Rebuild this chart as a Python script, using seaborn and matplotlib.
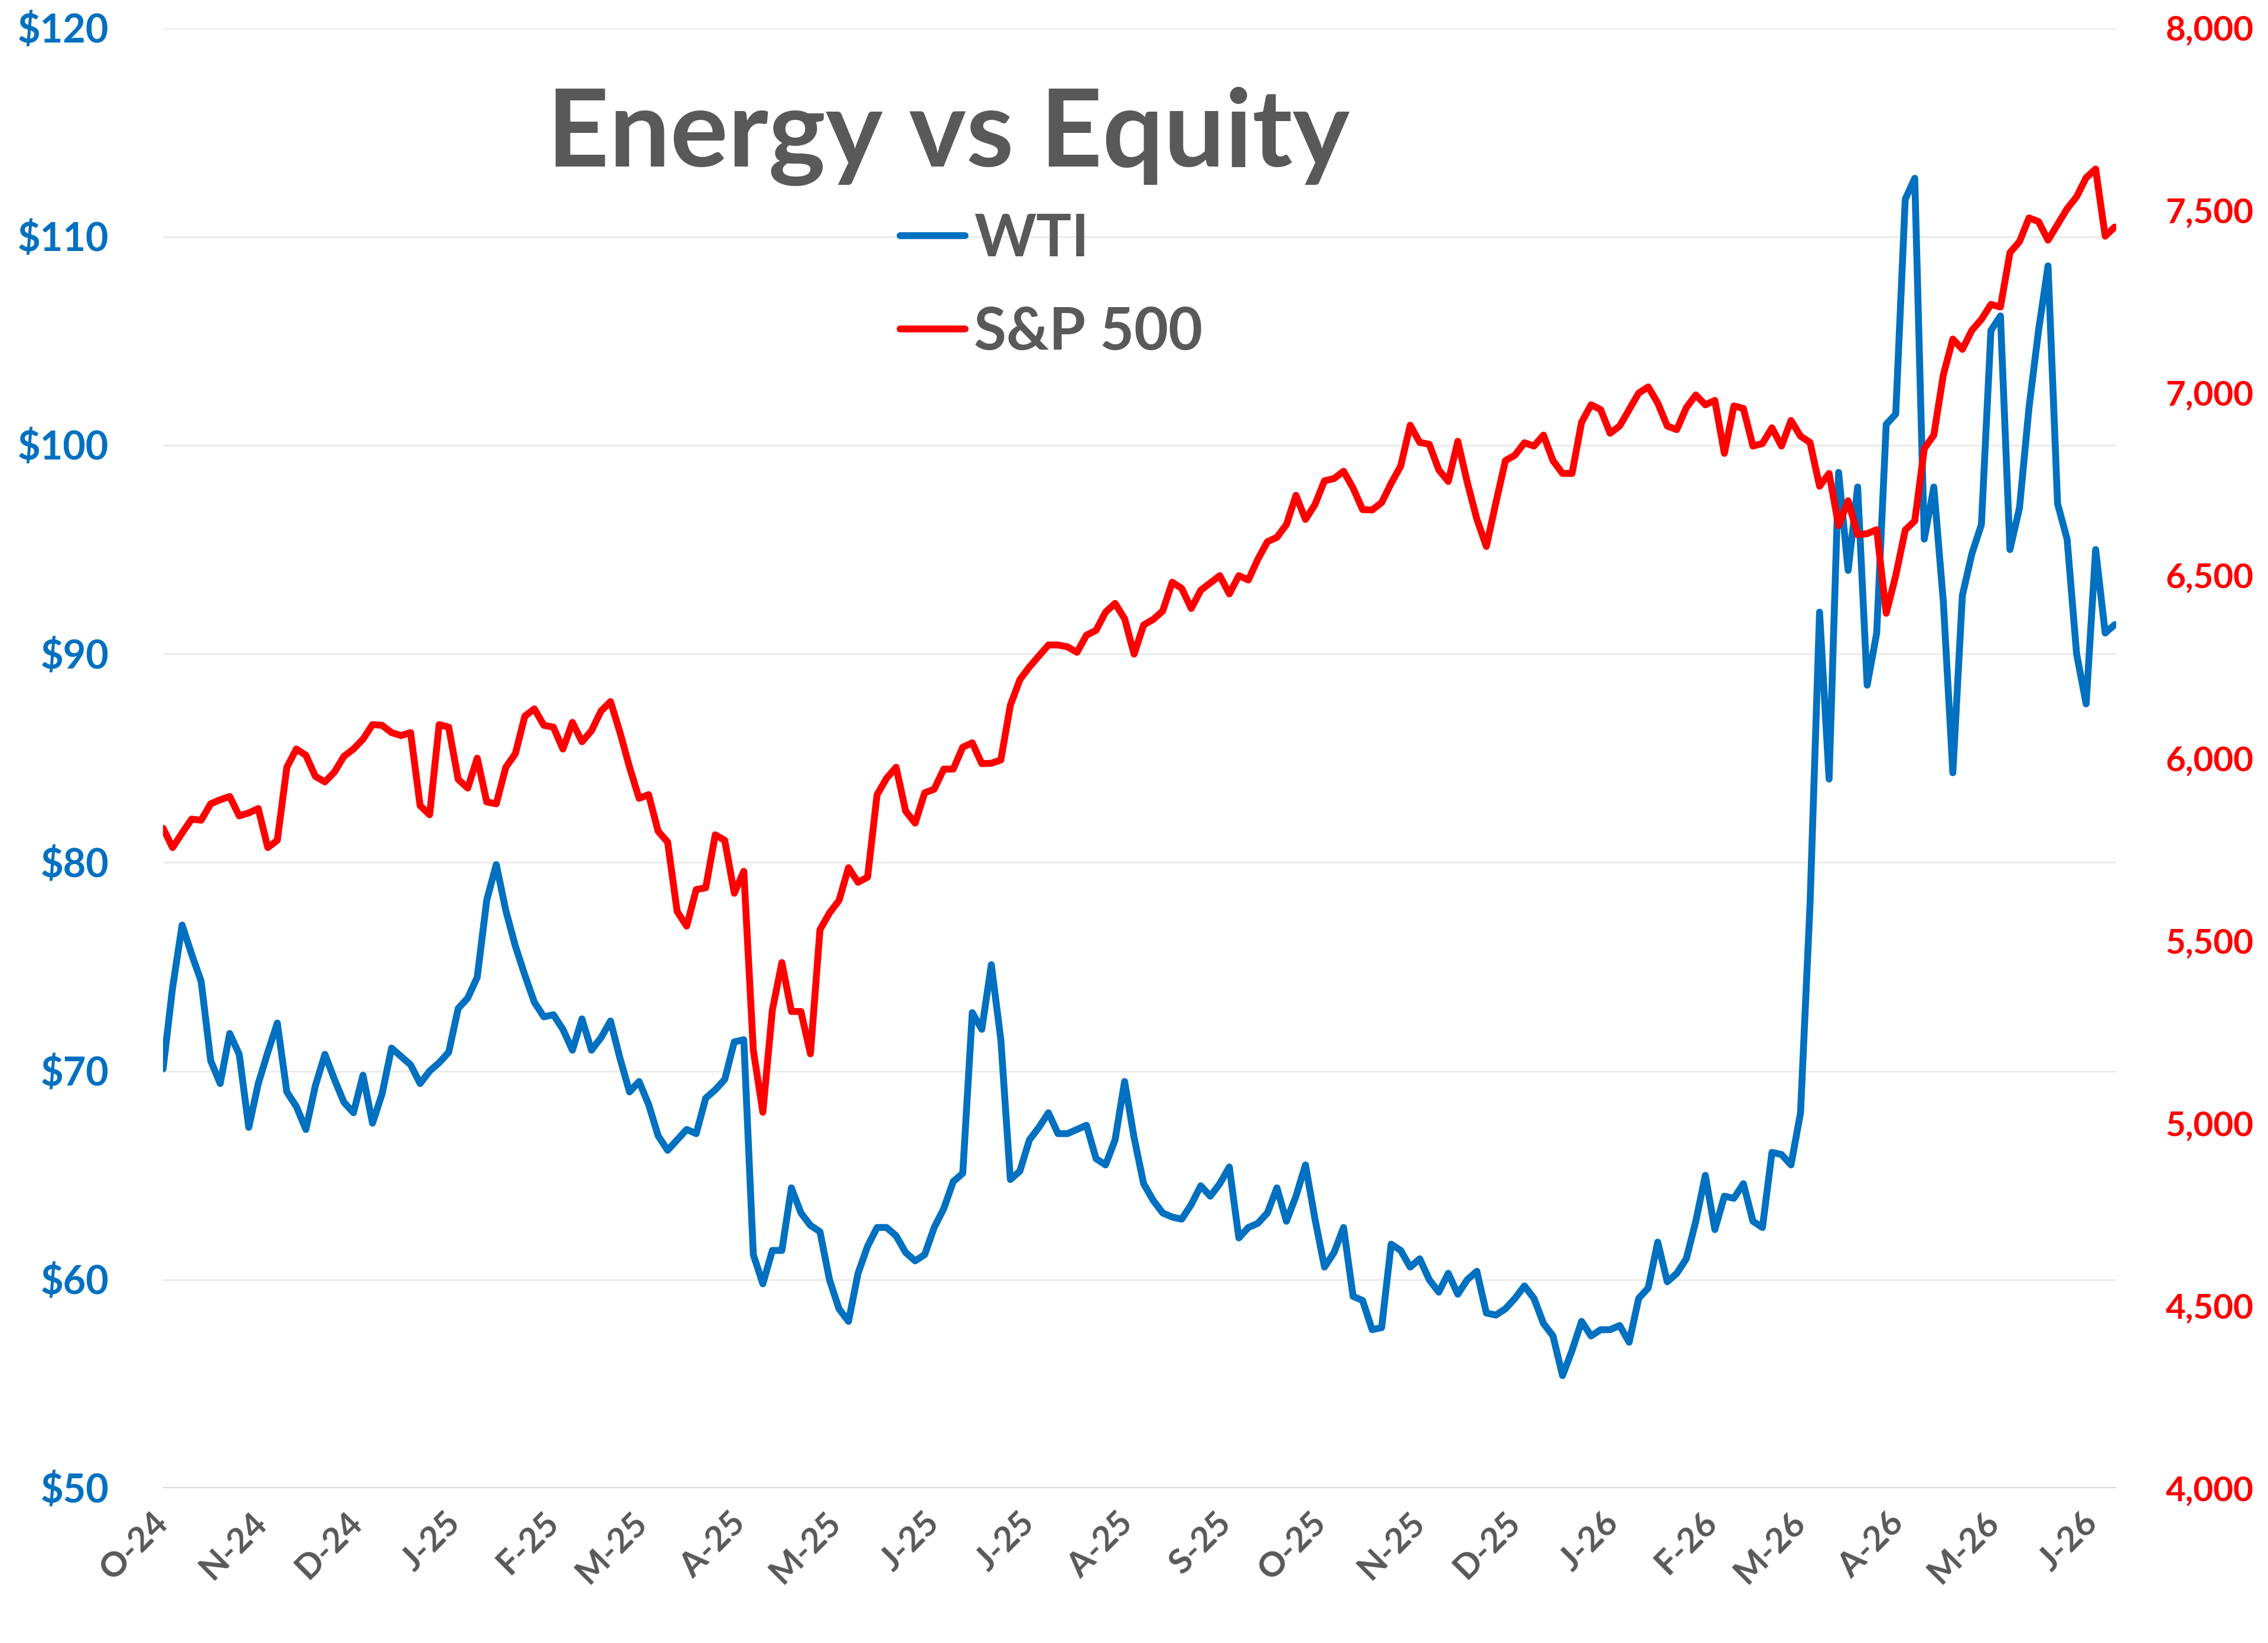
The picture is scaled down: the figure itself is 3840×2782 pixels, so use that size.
import pandas as pd
import seaborn as sns
import matplotlib.pyplot as plt
import matplotlib.ticker as mticker

# price samples every 3 calendar days, Oct 2024 - Jun 2026
dates = pd.date_range('2024-10-01', periods=206, freq='3D')

wti = [
    70.1, 74.0, 77.0, 75.6, 74.3, 70.5, 69.4, 71.8, 70.8, 67.3,
    69.4, 70.9, 72.3, 69.0, 68.3, 67.2, 69.3, 70.8, 69.6, 68.5,
    68.0, 69.8, 67.5, 68.9, 71.1, 70.7, 70.3, 69.4, 70.0, 70.4,
    70.9, 73.0, 73.5, 74.5, 78.2, 79.9, 77.7, 76.0, 74.6, 73.3,
    72.6, 72.7, 72.0, 71.0, 72.5, 71.0, 71.6, 72.4, 70.6, 69.0,
    69.5, 68.4, 66.9, 66.2, 66.7, 67.2, 67.0, 68.7, 69.1, 69.6,
    71.4, 71.5, 61.2, 59.8, 61.4, 61.4, 64.4, 63.2, 62.6, 62.3,
    60.0, 58.6, 58.0, 60.3, 61.6, 62.5, 62.5, 62.1, 61.3, 60.9,
    61.2, 62.5, 63.4, 64.7, 65.1, 72.8, 72.0, 75.1, 71.5, 64.8,
    65.2, 66.7, 67.3, 68.0, 67.0, 67.0, 67.2, 67.4, 65.8, 65.5,
    66.7, 69.5, 66.8, 64.6, 63.8, 63.2, 63.0, 62.9, 63.6, 64.5,
    64.0, 64.6, 65.4, 62.0, 62.5, 62.7, 63.2, 64.4, 62.8, 64.0,
    65.5, 62.9, 60.6, 61.3, 62.5, 59.2, 59.0, 57.6, 57.7, 61.7,
    61.4, 60.6, 61.0, 60.0, 59.4, 60.3, 59.3, 60.0, 60.4, 58.4,
    58.3, 58.6, 59.1, 59.7, 59.1, 57.9, 57.3, 55.4, 56.6, 58.0,
    57.3, 57.6, 57.6, 57.8, 57.0, 59.1, 59.6, 61.8, 59.9, 60.3,
    61.0, 62.8, 65.0, 62.4, 64.0, 63.9, 64.6, 62.8, 62.5, 66.1,
    66.0, 65.5, 68.0, 78.0, 92.0, 84.0, 98.7, 94.0, 98.0, 88.5,
    91.0, 101.0, 101.5, 111.8, 112.8, 95.5, 98.0, 92.5, 84.3, 92.8,
    94.8, 96.2, 105.5, 106.2, 95.0, 97.0, 101.8, 105.5, 108.6, 97.2,
    95.5, 90.0, 87.6, 95.0, 91.0, 91.4,
]

spx = [
    5808, 5755, 5795, 5833, 5830, 5875, 5886, 5895, 5842, 5850,
    5862, 5755, 5775, 5975, 6025, 6008, 5950, 5935, 5962, 6005,
    6025, 6052, 6092, 6090, 6070, 6062, 6070, 5870, 5845, 6092,
    6085, 5942, 5918, 6000, 5880, 5875, 5975, 6012, 6115, 6135,
    6090, 6085, 6025, 6098, 6045, 6075, 6129, 6155, 6070, 5975,
    5890, 5900, 5800, 5770, 5580, 5540, 5640, 5645, 5790, 5775,
    5630, 5690, 5200, 5030, 5310, 5440, 5306, 5306, 5190, 5530,
    5576, 5610, 5700, 5660, 5674, 5900, 5945, 5975, 5855, 5822,
    5905, 5915, 5970, 5970, 6030, 6042, 5985, 5986, 5995, 6145,
    6215, 6250, 6280, 6310, 6310, 6305, 6290, 6337, 6350, 6400,
    6424, 6382, 6285, 6365, 6380, 6403, 6482, 6465, 6410, 6460,
    6480, 6500, 6450, 6500, 6488, 6545, 6593, 6605, 6640, 6720,
    6654, 6695, 6760, 6766, 6786, 6740, 6681, 6680, 6700, 6753,
    6800, 6912, 6865, 6860, 6790, 6758, 6868, 6755, 6655, 6580,
    6700, 6815, 6830, 6864, 6855, 6885, 6815, 6780, 6780, 6920,
    6968, 6955, 6890, 6910, 6955, 7000, 7017, 6973, 6910, 6900,
    6960, 6995, 6968, 6980, 6835, 6965, 6958, 6855, 6862, 6905,
    6855, 6925, 6882, 6865, 6745, 6780, 6637, 6705, 6612, 6615,
    6626, 6397, 6500, 6625, 6650, 6848, 6885, 7050, 7148, 7120,
    7172, 7202, 7243, 7236, 7385, 7415, 7480, 7470, 7419, 7462,
    7505, 7538, 7590, 7614, 7430, 7455,
]

month_ticks = pd.date_range('2024-10-01', '2026-06-01', freq='MS')
month_labels = ['O-24', 'N-24', 'D-24', 'J-25', 'F-25', 'M-25', 'A-25',
                'M-25', 'J-25', 'J-25', 'A-25', 'S-25', 'O-25', 'N-25',
                'D-25', 'J-26', 'F-26', 'M-26', 'A-26', 'M-26', 'J-26']

BLUE = '#0070C0'
RED = '#FF0000'
GRAY = '#595959'

sns.set_style('white')
plt.rcParams['font.family'] = ['Lato', 'DejaVu Sans']
plt.rcParams['font.weight'] = 'bold'

df = pd.DataFrame({'date': dates, 'WTI': wti, 'S&P 500': spx})

fig = plt.figure(figsize=(12.8, 2782 / 300), dpi=300)
ax = fig.add_axes([0.0719, 0.0942, 0.8612, 0.8887])
ax2 = ax.twinx()

sns.lineplot(data=df, x='date', y='WTI', ax=ax, color=BLUE, linewidth=2.8, label='WTI', legend=False)
sns.lineplot(data=df, x='date', y='S&P 500', ax=ax2, color=RED, linewidth=2.8, label='S&P 500', legend=False)

ax.set_xlim(pd.Timestamp('2024-10-01'), pd.Timestamp('2026-06-08 12:00'))
ax.set_ylim(50, 120)
ax2.set_ylim(4000, 8000)
ax.set_yticks(range(50, 121, 10))
ax2.set_yticks(range(4000, 8001, 500))
ax.yaxis.set_major_formatter(mticker.FuncFormatter(lambda v, p: f'${v:.0f}'))
ax2.yaxis.set_major_formatter(mticker.FuncFormatter(lambda v, p: f'{v:,.0f}'))

ax.set_xticks(month_ticks)
ax.set_xticklabels(month_labels)
for lab in ax.get_xticklabels():
    lab.set_rotation(45)
    lab.set_ha('right')
    lab.set_va('center')
    lab.set_rotation_mode('anchor')

ax.tick_params(axis='x', length=0, pad=12, labelsize=14, labelcolor=GRAY)
ax.tick_params(axis='y', length=0, pad=22, labelsize=16, labelcolor=BLUE)
ax2.tick_params(axis='y', length=0, pad=20, labelsize=14, labelcolor=RED)

ax.set_xlabel('')
ax.set_ylabel('')
ax2.set_ylabel('')

ax.grid(axis='y', color='#EBEBEB', linewidth=0.7)
ax.grid(axis='x', visible=False)
ax2.grid(False)
for a in (ax, ax2):
    for s in a.spines.values():
        s.set_visible(False)
ax.axhline(50, color='#D9D9D9', linewidth=1.0, zorder=1)

fig.text(0.418, 0.8986, 'Energy vs Equity', ha='center', va='baseline',
         fontsize=44, fontweight='bold', color=GRAY)

handles = ax.get_lines()[:1] + ax2.get_lines()[:1]
fig.legend(handles, ['WTI', 'S&P 500'], loc='upper left',
           bbox_to_anchor=(0.397, 0.8706), frameon=False,
           prop={'size': 24, 'weight': 'bold'}, labelcolor=GRAY,
           handlelength=1.1, handletextpad=0.15, labelspacing=0.67,
           borderpad=0, borderaxespad=0)

fig.savefig('out.png', dpi=300)
